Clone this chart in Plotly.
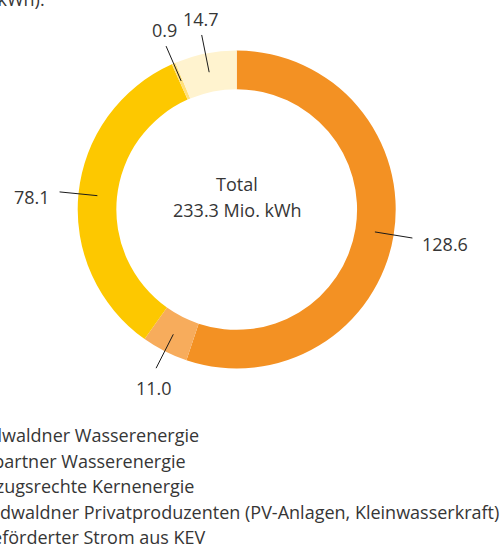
import math
import plotly.graph_objects as go

# ---- data ----
categories = [
    "Nidwaldner Wasserenergie",
    "Vertragspartner Wasserenergie",
    "Bezugsrechte Kernenergie",
    "Nidwaldner Privatproduzenten (PV-Anlagen, Kleinwasserkraft)",
    "Geförderter Strom aus KEV",
]
values = [128.6, 11.0, 78.1, 0.9, 14.7]
value_labels = ["128.6", "11.0", "78.1", "0.9", "14.7"]
colors = ["#F39123", "#F7AC5C", "#FDC800", "#FFE07C", "#FFF3CF"]
total_label = ["Total", "233.3 Mio. kWh"]
title_text = "Energiebeschaffung (in Mio. kWh)."

# ---- layout constants (page pixels) ----
W, H = 504, 547
CX, CY, R = 236.7, 209.5, 159.0
HOLE = 0.757
FONT = "Open Sans"
TXT = "#363636"
FS = 18

def px(x):
    return x / W

def py(y):
    return 1 - y / H

def tfont():
    return dict(family=FONT, size=FS, color=TXT, weight=400)

fig = go.Figure()
fig.add_trace(go.Pie(
    labels=categories,
    values=values,
    sort=False,
    direction="clockwise",
    rotation=0,
    hole=HOLE,
    marker=dict(colors=colors, line=dict(width=0)),
    textinfo="none",
    hoverinfo="label+value",
    showlegend=False,
    domain=dict(x=[px(CX - R), px(CX + R)], y=[py(CY + R), py(CY - R)]),
))

shapes = []
annotations = []
tot = sum(values)
cum = 0.0
for v, lab in zip(values, value_labels):
    mid = (cum + v / 2) / tot * 2 * math.pi
    cum += v
    s, c = math.sin(mid), math.cos(mid)
    x0, y0 = CX + 140 * s, CY - 140 * c
    x1, y1 = CX + 178 * s, CY - 178 * c
    shapes.append(dict(type="line", xref="paper", yref="paper",
                       x0=px(x0), y0=py(y0), x1=px(x1), y1=py(y1),
                       line=dict(color="#1a1a1a", width=1)))
    lx, ly = CX + 182 * s, CY - 182 * c
    if abs(s) > 0.8:
        xa = "left" if s > 0 else "right"
        ya = "middle"
        ly += 5
        lx += 4 if s > 0 else -4
    else:
        xa = "center"
        ya = "bottom" if c > 0 else "top"
        ly += 2
    annotations.append(dict(text=lab, x=px(lx), y=py(ly), xref="paper", yref="paper",
                            xanchor=xa, yanchor=ya, showarrow=False, font=tfont()))

annotations.append(dict(text=total_label[0], x=px(237), y=py(184), xref="paper", yref="paper",
                        xanchor="center", yanchor="middle", showarrow=False, font=tfont()))
annotations.append(dict(text=total_label[1], x=px(237), y=py(210), xref="paper", yref="paper",
                        xanchor="center", yanchor="middle", showarrow=False, font=tfont()))
annotations.append(dict(text=title_text, x=px(47), y=py(-0.5), xref="paper", yref="paper",
                        xanchor="right", yanchor="middle", showarrow=False, font=tfont()))

legend_right = [201, 188, 196, 501, 208]
for i, cat in enumerate(categories):
    annotations.append(dict(text=cat, x=px(legend_right[i]), y=py(435 + 25.5 * i),
                            xref="paper", yref="paper", xanchor="right", yanchor="middle",
                            showarrow=False, font=tfont()))

fig.update_layout(
    width=W, height=H,
    margin=dict(l=0, r=0, t=0, b=0),
    paper_bgcolor="white", plot_bgcolor="white",
    shapes=shapes, annotations=annotations,
)
fig.write_html("out.html", config={"displayModeBar": False},
               post_script="document.body.style.margin='0';")
